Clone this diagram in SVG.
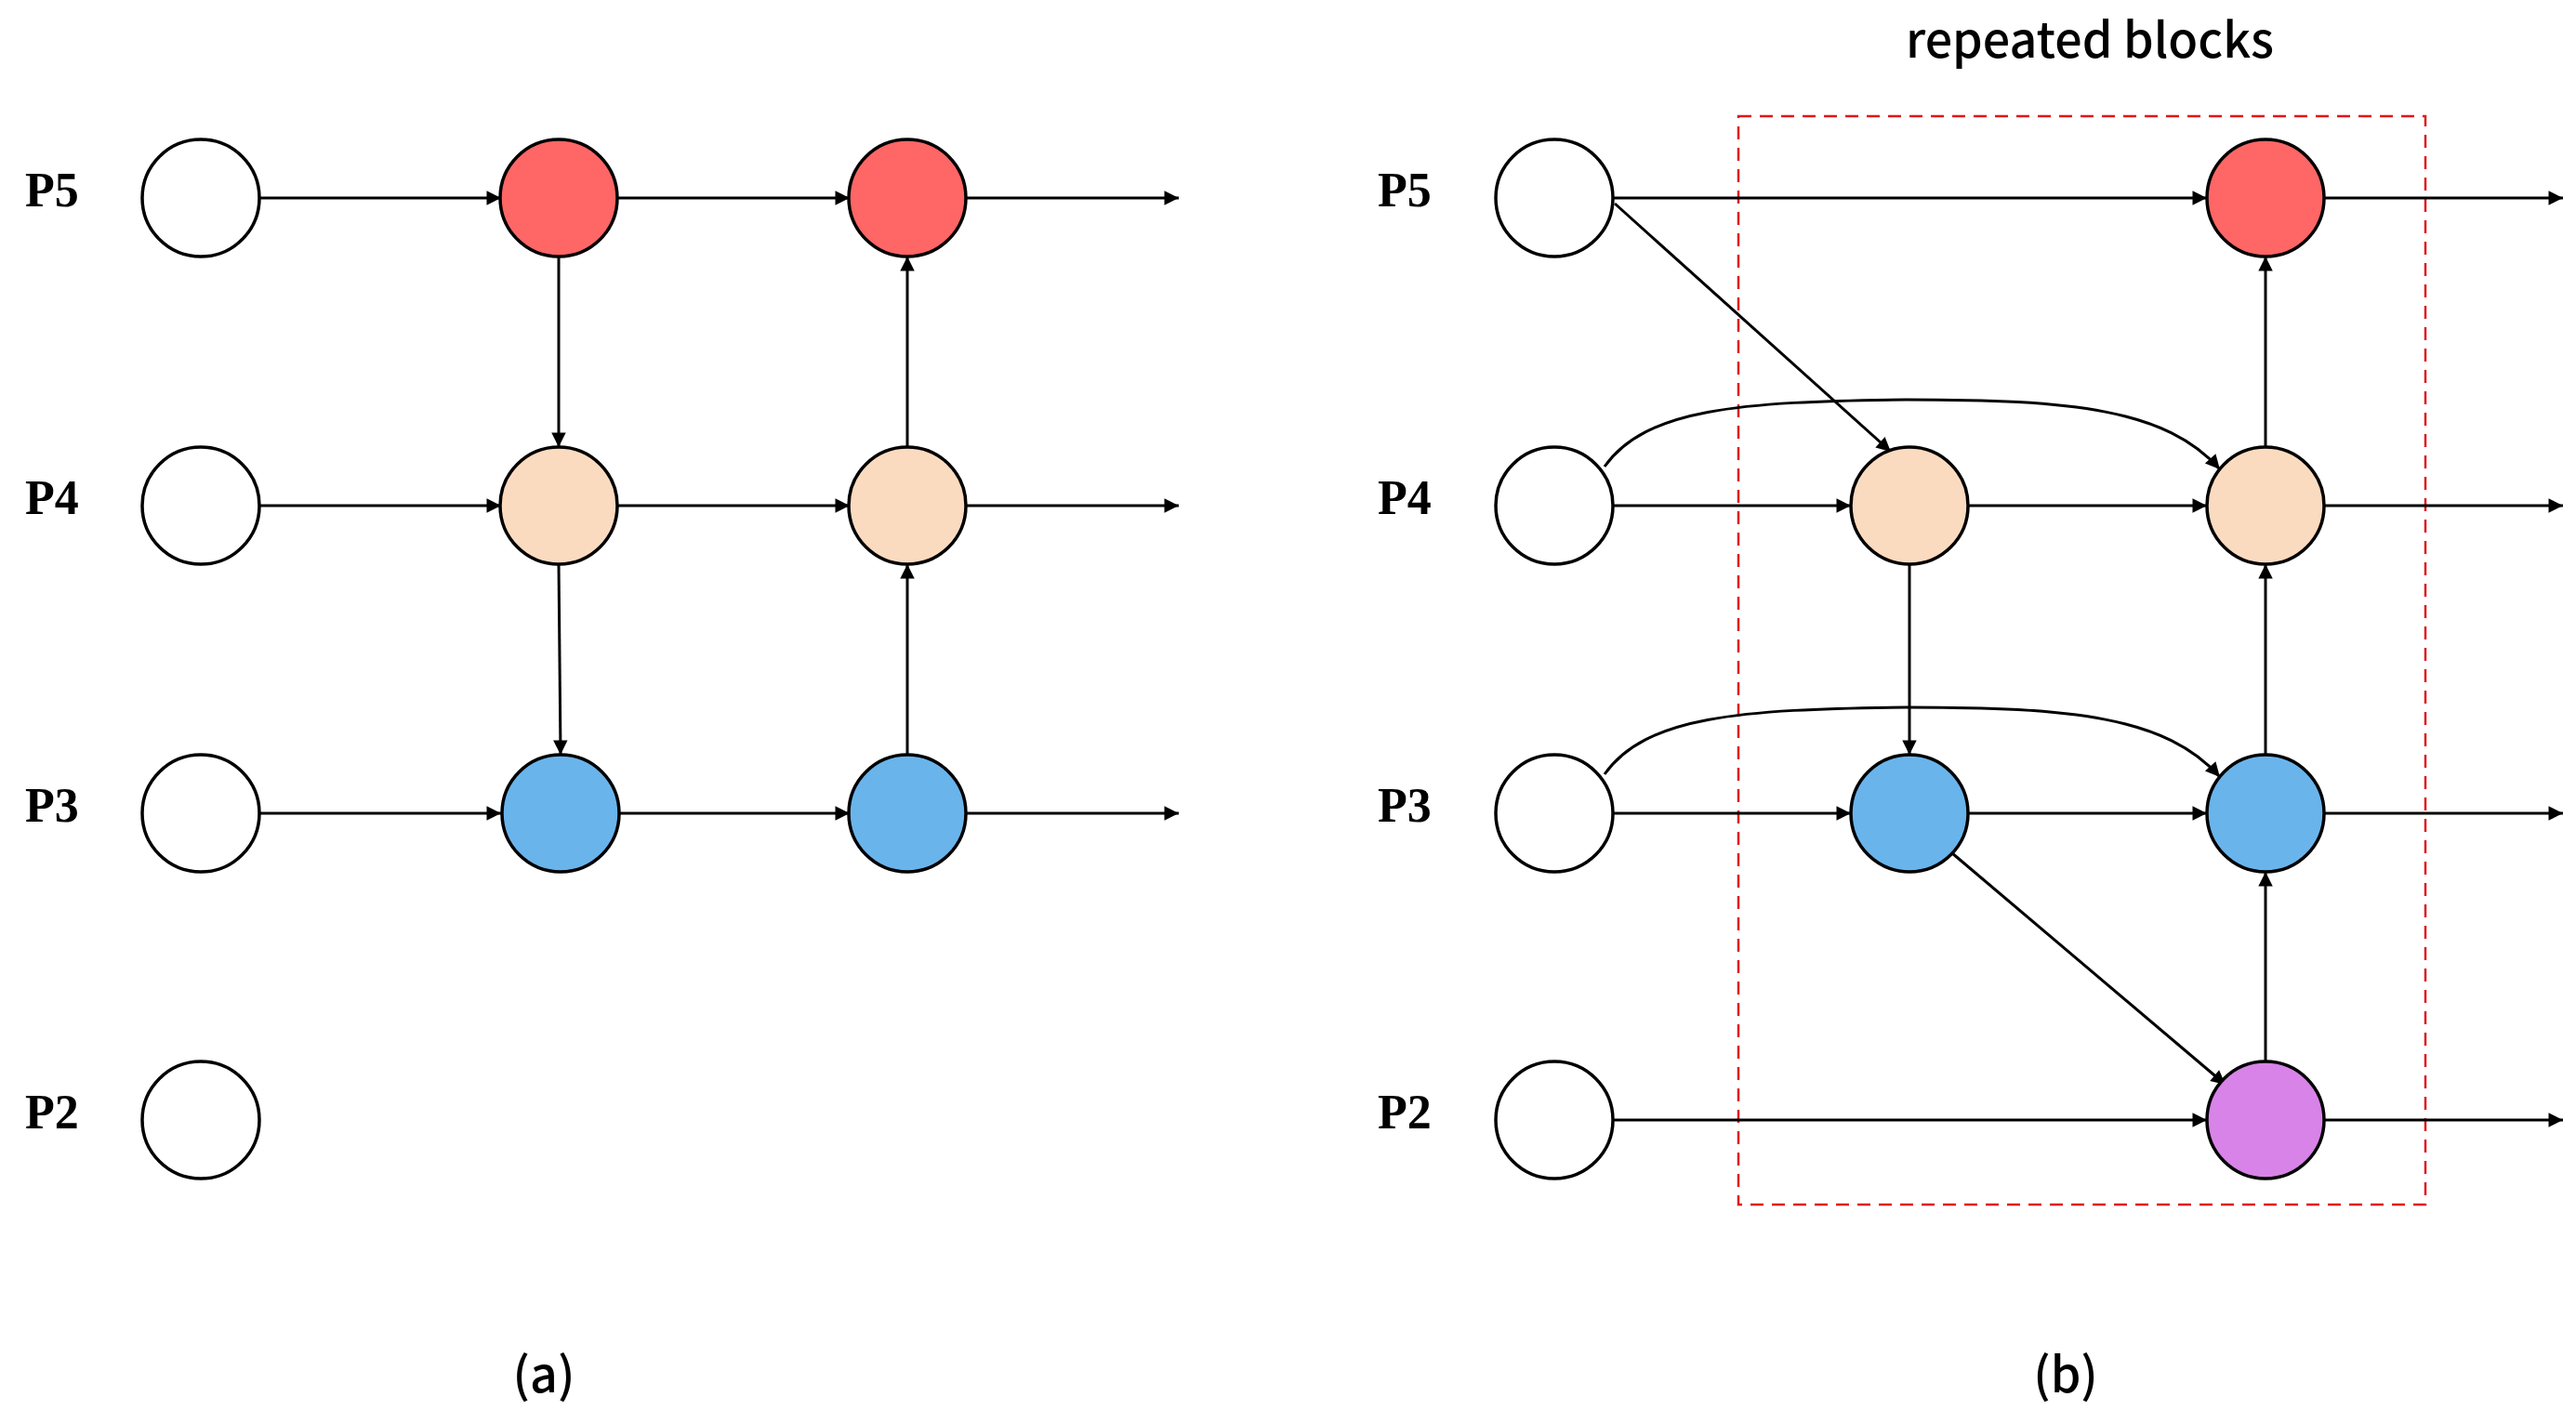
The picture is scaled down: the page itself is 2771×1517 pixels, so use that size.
<svg xmlns="http://www.w3.org/2000/svg" width="2771" height="1517" viewBox="0 0 2771 1517">
<style>
.n{stroke:#000;stroke-width:3.5}
.w{fill:#fff}.r{fill:#FF6666}.o{fill:#FBDBC0}.b{fill:#6AB4EC}.p{fill:#D883E8}
.c path{fill:none;stroke:#000;stroke-width:3;marker-end:url(#a)}
.lb{font-family:"Liberation Serif",serif;font-weight:bold;font-size:52px}
.t{font-family:"Noto Sans CJK SC","Noto Sans",sans-serif;font-size:52px;font-weight:500;text-anchor:middle}
</style>
<defs><marker id="a" viewBox="0 0 10 10" refX="10" refY="5" markerWidth="7" markerHeight="7" markerUnits="userSpaceOnUse" orient="auto" style="overflow:visible"><path d="M0,0L10,5L0,10z" transform="scale(2.2) translate(-5.5,-2.7)" fill="#000"/></marker></defs>
<rect x="1870" y="125" width="739" height="1171" fill="none" stroke="#E0161B" stroke-width="2.5" stroke-dasharray="14,9"/>
<g class="lb">
<text x="27" y="222">P5</text><text x="27" y="553">P4</text><text x="27" y="884">P3</text><text x="27" y="1214">P2</text>
<text x="1482" y="222">P5</text><text x="1482" y="553">P4</text><text x="1482" y="884">P3</text><text x="1482" y="1214">P2</text>
</g>
<text class="t" x="2248" y="62">repeated blocks</text>
<text class="t" x="585" y="1498">(a)</text>
<text class="t" x="2222" y="1498">(b)</text>
<g class="c">
<path d="M279,213H539"/><path d="M664,213H914"/><path d="M1039,213H1268"/>
<path d="M279,544H539"/><path d="M664,544H914"/><path d="M1039,544H1268"/>
<path d="M279,875H539"/><path d="M664,875H914"/><path d="M1039,875H1268"/>
<path d="M601,276V481"/><path d="M601,607L603,812"/>
<path d="M976,481V276"/><path d="M976,812V607"/>
<path d="M1735,213H2374"/><path d="M2500,213H2757"/>
<path d="M1735,544H1991"/><path d="M2117,544H2374"/><path d="M2500,544H2757"/>
<path d="M1735,875H1991"/><path d="M2117,875H2374"/><path d="M2500,875H2757"/>
<path d="M1735,1205H2374"/><path d="M2500,1205H2757"/>
<path d="M1737,219L2034,486"/>
<path d="M2100,918L2394,1167"/>
<path d="M2054,607V812"/>
<path d="M2437,481V276"/><path d="M2437,812V607"/><path d="M2437,1142V938"/>
<path d="M1726,502C1770,440 1870,432 2050,430C2230,430 2330,440 2388,505"/>
<path d="M1726,833C1770,771 1870,763 2050,761C2230,761 2330,771 2388,836"/>
</g>
<g id="a1"><circle class="n w" cx="216" cy="213" r="63"/><circle class="n w" cx="216" cy="544" r="63"/><circle class="n w" cx="216" cy="875" r="63"/><circle class="n w" cx="216" cy="1205" r="63"/></g>
<g id="a2"><circle class="n r" cx="601" cy="213" r="63"/><circle class="n o" cx="601" cy="544" r="63"/><circle class="n b" cx="603" cy="875" r="63"/></g>
<g id="a3"><circle class="n r" cx="976" cy="213" r="63"/><circle class="n o" cx="976" cy="544" r="63"/><circle class="n b" cx="976" cy="875" r="63"/></g>
<g id="b1"><circle class="n w" cx="1672" cy="213" r="63"/><circle class="n w" cx="1672" cy="544" r="63"/><circle class="n w" cx="1672" cy="875" r="63"/><circle class="n w" cx="1672" cy="1205" r="63"/></g>
<g id="b2"><circle class="n o" cx="2054" cy="544" r="63"/><circle class="n b" cx="2054" cy="875" r="63"/></g>
<g id="b3"><circle class="n r" cx="2437" cy="213" r="63"/><circle class="n o" cx="2437" cy="544" r="63"/><circle class="n b" cx="2437" cy="875" r="63"/><circle class="n p" cx="2437" cy="1205" r="63"/></g>
</svg>
